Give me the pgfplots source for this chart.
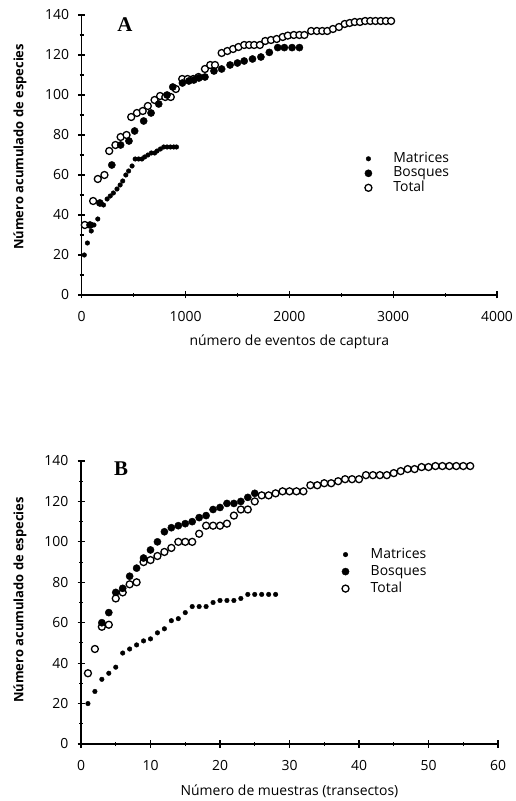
\documentclass[border=0pt]{standalone}
\usepackage{fontspec}
\setmainfont{Open Sans}
\newfontfamily\panelfont{Liberation Serif}
\usepackage{pgfplots}
\pgfplotsset{compat=1.18}

\pgfplotstableread{
x y
30 35
110 47
155 58
219 60
265 72
325 75
375 79
432 80
477 89
532 91
588 92
637 94.5
702 97.5
755 99.5
805 99
858 99
907 103
968 108
1020 108
1075 108
1125 109
1187 113
1238 115
1284 115
1348 121
1403 122
1458 123
1510 124
1565 125
1613 125
1661 125
1716 125
1768 127
1823 127.5
1878 128
1936 129
1985 129.7
2043 130
2097 130
2145 130
2210 132
2265 132
2317 132
2365 132
2420 133
2478 134
2533 135.5
2581 136
2630 136.5
2680 136.5
2730 137
2780 137
2830 137
2880 137
2930 137
2980 137
}\totalA

\pgfplotstableread{
x y
80 35
175 46
290 65
375 75
455 77
510 82
597 87
668 91
742 95.5
822 100
877 104
970 106
1032 107
1080 107.5
1129 108.5
1187 109
1274 112
1348 113
1429 115
1500 116
1565 117
1645 118
1726 119
1807 121.3
1888 123.7
1952 123.7
2026 123.7
2097 123.7
}\bosqA

\pgfplotstableread{
x y
25 20
55 26
92 32
118 35
155 38
210 45
245 48
275 49.5
305 51
340 53
370 55
395 57
425 60
452 62
485 64.5
515 68
548 68
580 68
606 69
638 70
671 71
703 71
726 72
758 73
790 74
822 74
855 74
887 74
913 74
}\matrA

\pgfplotstableread{
x y
1 35
2 47
3 58
4 59
5 72
6 75
7 79
8 80
9 90
10 91
11 93
12 95
13 97
14 100
15 100
16 100
17 104
18 108
19 108
20 108
21 109
22 113
23 116
24 116
25 120
26 123
27 123
28 124
29 125
30 125
31 125
32 125
33 128
34 128
35 129
36 129
37 130
38 131
39 131
40 131
41 133
42 133
43 133
44 133
45 134
46 135
47 136
48 136
49 137
50 137
51 137.5
52 137.5
53 137.5
54 137.5
55 137.5
56 137.5
}\totalB

\pgfplotstableread{
x y
3 60
4 65
5 75
6 77
7 83
8 87
9 92
10 96
11 100
12 105
13 107
14 108
15 109
16 110
17 112
18 113
19 116
20 117
21 119
22 119
23 120
24 122
25 124
}\bosqB

\pgfplotstableread{
x y
1 20
2 26
3 32
4 35
5 38
6 45
7 47
8 49
9 51
10 52
11 55
12 57
13 61
14 62
15 65
16 68
17 68
18 68
19 70
20 71
21 71
22 71
23 72
24 74
25 74
26 74
27 74
28 74
}\matrB

\pgfplotsset{
  myaxis/.style={
    scale only axis,
    axis lines*=left,
    axis line style={-, line width=1.4bp},
    tick style={line width=1.1bp, black},
    tick align=center,
    major tick length=7bp,
    minor tick length=4bp,
    ymin=0, ymax=140,
    ytick={0,20,...,140},
    minor y tick num=1,
    minor x tick num=1,
    tick label style={font=\fontsize{14}{16}\selectfont},
    /pgf/number format/assume math mode=true,
    /pgf/number format/1000 sep={},
    xticklabel style={anchor=center, yshift=-18bp},
    yticklabel style={anchor=east, inner sep=0pt, xshift=-9bp},
    clip=false,
    legend image code/.code={\path (-6bp,0bp) (6bp,0bp); \draw[##1] plot coordinates {(0bp,0bp)};},
  },
  matr/.style={only marks, mark=*, mark size=2.3bp, black, mark options={draw=black, fill=black}},
  bosq/.style={only marks, mark=*, mark size=3.6bp, black, mark options={draw=black, fill=black}},
  tot/.style={only marks, mark=*, mark size=3.5bp, black, mark options={draw=black, fill=white, line width=1.3bp}},
}

\begin{document}
\begin{tikzpicture}
\path[use as bounding box] (0,0) rectangle (516bp,801bp);

% Panel A
\begin{axis}[myaxis,
  at={(81.7bp,506bp)}, anchor=south west,
  width=415.3bp, height=280bp,
  xmin=0, xmax=4000,
  xtick={0,1000,...,4000},
  xlabel={número de eventos de captura},
  xlabel style={font=\fontsize{14}{16}\selectfont, at={(axis description cs:0.5,0)}, anchor=center, yshift=-47bp},
  ylabel={Número acumulado de especies},
  ylabel style={font=\fontsize{13}{15}\selectfont\bfseries, at={(axis description cs:-0.1486,0.529)}, anchor=center},
  legend style={at={(axis description cs:0.675,0.513)}, anchor=north west, draw=none, fill=none,
    inner sep=0pt, row sep=0bp, column sep=18bp, font=\fontsize{14}{16}\selectfont,
    cells={anchor=west}, nodes={inner sep=0.75bp, text height=10bp, text depth=3bp}},
]
\addplot[tot, forget plot] table {\totalA};
\addplot[bosq, forget plot] table {\bosqA};
\addplot[matr, forget plot] table {\matrA};
\addlegendimage{matr}\addlegendentry{Matrices}
\addlegendimage{bosq}\addlegendentry{Bosques}
\addlegendimage{tot}\addlegendentry{Total}
\node[font=\panelfont\bfseries\fontsize{21}{24}\selectfont] at (axis description cs:0.104,0.964) {A};
\end{axis}

% Panel B
\begin{axis}[myaxis,
  at={(81bp,57bp)}, anchor=south west,
  width=417bp, height=283bp,
  xmin=0, xmax=60,
  xtick={0,10,...,60},
  xlabel={Número de muestras (transectos)},
  xlabel style={font=\fontsize{14}{16}\selectfont, at={(axis description cs:0.5,0)}, anchor=center, yshift=-47.5bp},
  ylabel={Número acumulado de especies},
  ylabel style={font=\fontsize{13}{15}\selectfont\bfseries, at={(axis description cs:-0.1463,0.509)}, anchor=center},
  legend style={at={(axis description cs:0.619,0.70)}, anchor=north west, draw=none, fill=none,
    inner sep=0pt, row sep=0bp, column sep=17bp, font=\fontsize{14}{16}\selectfont,
    cells={anchor=west}, nodes={inner sep=2bp, text height=10bp, text depth=3bp}},
]
\addplot[tot, forget plot] table {\totalB};
\addplot[bosq, forget plot] table {\bosqB};
\addplot[matr, forget plot] table {\matrB};
\addlegendimage{matr}\addlegendentry{Matrices}
\addlegendimage{bosq}\addlegendentry{Bosques}
\addlegendimage{tot}\addlegendentry{Total}
\node[font=\panelfont\bfseries\fontsize{21}{24}\selectfont] at (axis description cs:0.096,0.972) {B};
\end{axis}
\end{tikzpicture}
\end{document}
